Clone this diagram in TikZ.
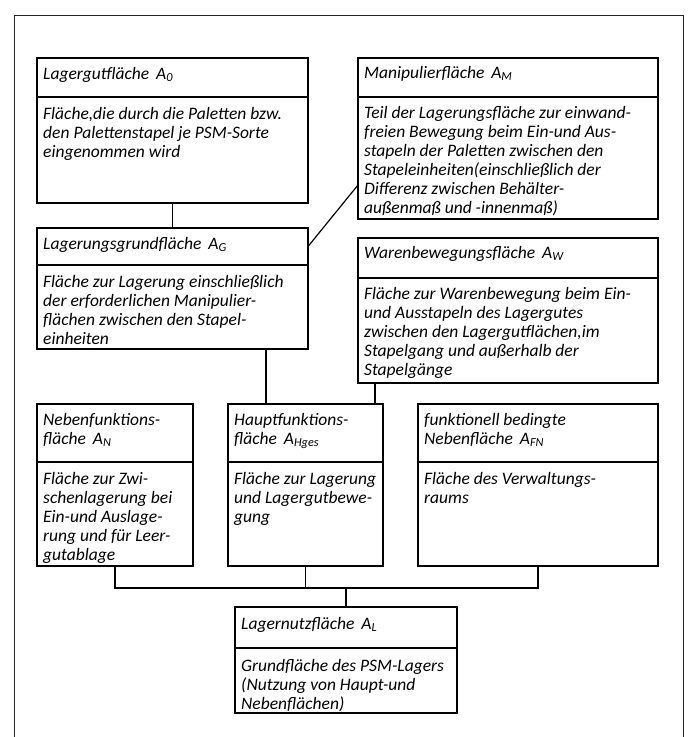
\documentclass[tikz,border=0pt]{standalone}
\usepackage{fontspec}
\setmainfont{Carlito}
\tikzset{
  panel/.style={draw=black, line width=1.2pt, inner sep=0pt, outer sep=0pt, rectangle},
  txt/.style={anchor=north west, inner sep=0pt, align=left, font=\fontsize{17.5}{19}\selectfont\itshape},
  conn/.style={draw=black, line width=1.2pt},
  frameline/.style={draw=black!85, line width=1pt}
}
\newcommand\drawpanel[9]{%
  \node[panel, minimum width=#4-#2, minimum height=#5-#3, anchor=north west] (#1t) at (#2,#3) {};
  \node[panel, minimum width=#4-#2, minimum height=#6-#5, anchor=north west] (#1b) at (#1t.south west) {};
  \node[txt] (#1tt) at ([shift={(6,#9)}]#1t.north west) {#7};
  \node[txt] (#1bt) at ([shift={(6,#9+1)}]#1b.north west) {#8};
}
\begin{document}
\begin{tikzpicture}[x=1pt,y=-1pt]
\useasboundingbox (0,0) rectangle (693,737);
\draw[frameline] (14,737) -- (14,15) -- (683,15) -- (683,737);

\drawpanel{A0}{37}{58}{308}{97}{203}{Lagergutfläche\, A\textsubscript{0}}{Fläche,die durch die Paletten bzw.\\den Palettenstapel je PSM-Sorte\\eingenommen wird}{9}
\drawpanel{AM}{358}{58}{658}{97}{219}{Manipulierfläche\, A\textsubscript{M}}{Teil der Lagerungsfläche zur einwand-\\freien Bewegung beim Ein-und Aus-\\stapeln der Paletten zwischen den\\Stapeleinheiten(einschließlich der\\Differenz zwischen Behälter-\\außenmaß und -innenmaß)}{8}
\drawpanel{AG}{37}{228}{308}{265}{349}{Lagerungsgrundfläche\, A\textsubscript{G}}{Fläche zur Lagerung einschließlich\\der erforderlichen Manipulier-\\flächen zwischen den Stapel-\\einheiten}{9}
\drawpanel{AW}{358}{238}{658}{278}{383}{Warenbewegungsfläche\, A\textsubscript{W}}{Fläche zur Warenbewegung beim Ein-\\und Ausstapeln des Lagergutes\\zwischen den Lagergutflächen,im\\Stapelgang und außerhalb der\\Stapelgänge}{8}
\drawpanel{AN}{37}{404}{193}{462}{566}{Nebenfunktions-\\fläche\, A\textsubscript{N}}{Fläche zur Zwi-\\schenlagerung bei\\Ein-und Auslage-\\rung und für Leer-\\gutablage}{9}
\drawpanel{AH}{228}{404}{383}{462}{566}{Hauptfunktions-\\fläche\, A\textsubscript{Hges}}{Fläche zur Lagerung\\und Lagergutbewe-\\gung}{9}
\drawpanel{AF}{418}{404}{658}{462}{566}{funktionell bedingte\\Nebenfläche\, A\textsubscript{FN}}{Fläche des Verwaltungs-\\raums}{9}
\drawpanel{AL}{235}{607}{457}{648}{713}{Lagernutzfläche\, A\textsubscript{L}}{Grundfläche des PSM-Lagers\\(Nutzung von Haupt-und\\Nebenflächen)}{10}

% connectors
\draw[conn] (A0b.south) -- (A0b.south |- AGt.north);
\draw[conn] (AGt.east) -- ([yshift=34pt]AMb.south west);
\draw[conn] ([xshift=38pt]AHt.north west) -- ([xshift=38pt]AHt.north west |- AGb.south);
\draw[conn] ([xshift=-8pt]AHt.north east) -- ([xshift=-8pt]AHt.north east |- AWb.south);
\coordinate (bus) at ([yshift=-22pt]ANb.south);
\draw[conn] (ANb.south) -- (bus) -| (AFb.south);
\draw[conn] (AHb.south) -- (AHb.south |- bus);
\draw[conn] (ALt.north) -- (ALt.north |- bus);
\end{tikzpicture}
\end{document}
